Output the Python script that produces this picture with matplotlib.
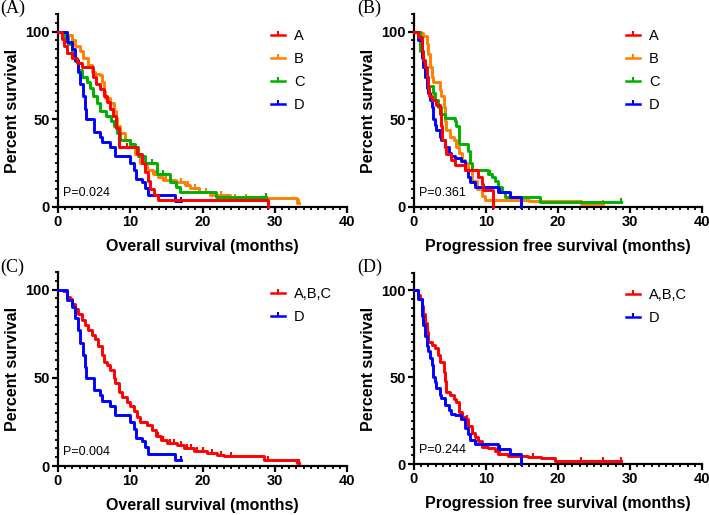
import matplotlib
matplotlib.use('Agg')
import matplotlib.pyplot as plt
from matplotlib.path import Path
from matplotlib.lines import Line2D
from matplotlib.ticker import MultipleLocator

plt.rcParams['font.family'] = ['Liberation Sans', 'DejaVu Sans']

# colours of the groups
col_a = '#ff0000'
col_b = '#ff8000'
col_c = '#00b000'
col_d = '#0000ff'

# ---- (A) overall survival, four groups ----
os_a_t = [0, 0.5, 0.8, 1.3, 2.0, 2.6, 3.3, 4.9, 5.3, 5.8, 6.3, 6.8, 7.2, 7.6, 8.0, 8.4, 10.9, 11.6, 12.0, 12.4, 12.8, 13.3, 13.8, 29.0]
os_a_s = [100, 96, 92, 88, 85, 82, 80, 74, 70, 67, 63, 60, 56, 52, 45, 34, 30, 25, 20, 15, 10, 7, 4, 0]
os_a_cens = [5.0, 9.5]

os_b_t = [0, 1.2, 1.9, 2.4, 3.0, 3.5, 4.2, 4.7, 5.1, 5.8, 6.05, 6.3, 6.5, 7.2, 7.7, 8.0, 8.2, 8.6, 9.3, 10.0, 10.7,
          11.4, 12.3, 13.2, 13.9, 14.6, 16.3, 17.6, 18.3, 19.5, 21.1, 23.8, 33.1, 33.3]
os_b_s = [100, 98, 95, 92, 89, 85, 81, 77, 76, 75, 71, 66, 62, 59, 55, 51, 46, 42, 38, 34, 30,
          25, 21, 19, 17, 15.5, 14.4, 12.5, 10.6, 8.7, 7.0, 5.3, 2.0, 2.0]
os_b_cens = [13.5, 15.0, 17.0, 18.0, 19.0, 20.5, 22.5, 24.5, 26.0, 33.3]

os_c_t = [0, 1.0, 1.4, 1.9, 2.4, 2.8, 3.3, 4.0, 4.4, 4.9, 5.4, 5.8, 6.7, 7.4, 7.7, 8.1, 8.6, 10.0, 10.7, 11.1, 12.1,
          13.7, 15.5, 16.4, 16.9, 21.8, 28.8]
os_c_s = [100, 97, 93, 85, 83, 78, 74, 71, 68, 63, 59, 55, 52, 49, 46, 42, 38, 36, 34, 29, 25,
          19, 14.5, 11.5, 8.7, 5.5, 5.5]
os_c_cens = [13.0, 14.5, 28.8]

os_d_t = [0, 1.3, 1.9, 2.4, 2.7, 3.0, 3.4, 3.7, 3.9, 5.0, 5.8, 6.1, 7.2, 7.9, 10.0, 10.5, 10.8, 11.6, 12.1, 12.4, 16.2, 17.0]
os_d_s = [100, 94, 90, 84, 77, 70, 63, 56, 50, 43, 40, 37, 34, 29, 25, 21, 16, 14, 11, 7, 3.5, 3.5]
os_d_cens = [17.0]

# ---- (B) progression free survival, four groups ----
pfs_a_t = [0, 0.6, 1.05, 1.3, 1.5, 1.75, 2.0, 2.1, 2.45, 3.1, 3.6, 3.8, 3.9, 4.3, 4.5, 5.2, 5.7, 7.1, 8.9, 9.4, 9.6, 11.0]
pfs_a_s = [100, 97, 89, 84, 80, 74, 68, 63, 61, 58, 53, 46, 38, 34, 30, 27, 24, 21, 17, 13, 9.5, 0]
pfs_a_cens = []

pfs_b_t = [0, 1.0, 1.3, 1.75, 2.0, 2.2, 2.45, 2.7, 3.6, 3.8, 4.1, 4.3, 4.5, 5.0, 5.5, 5.9, 6.2, 6.6, 7.1, 7.5,
           8.0, 8.7, 9.4, 9.9, 16.0, 23.2, 26.2]
pfs_b_s = [100, 99, 97.5, 93, 87, 80, 74, 71, 66.5, 63, 57, 49, 44, 40, 38, 34, 30.5, 27, 25, 21,
           15, 10, 6, 4, 3.3, 1.7, 1.7]
pfs_b_cens = [23.2, 26.2]

pfs_c_t = [0, 0.8, 1.3, 1.5, 2.0, 2.7, 2.9, 3.4, 3.8, 4.3, 5.7, 5.9, 6.2, 7.5, 7.8, 8.0, 10.3, 10.8, 11.2, 11.7,
           12.2, 12.6, 17.5, 28.8]
pfs_c_s = [100, 89, 80, 74, 69, 65, 61, 57, 53, 51, 49, 46, 36, 32, 25, 21, 19, 17, 15, 11.5,
           8.7, 5.9, 3, 3]
pfs_c_cens = [10.5, 28.8]

pfs_d_t = [0, 0.6, 1.05, 1.3, 1.5, 1.75, 2.0, 2.2, 2.5, 2.7, 2.9, 3.1, 3.6, 3.8, 4.3, 4.8, 5.2, 5.7, 6.5, 7.1,
           7.5, 7.8, 8.5, 11.7, 13.3, 14.8]
pfs_d_s = [100, 95, 85, 80, 74, 68, 65, 61, 57, 50, 47, 44, 40, 38, 34, 31, 29, 28, 26, 21,
           17, 14, 11.5, 8.7, 5.9, 0]
pfs_d_cens = [12.0]

# ---- (C) overall survival, A+B+C pooled ----
os_abc_t = [0, 0.7, 1.2, 1.7, 1.9, 2.4, 2.8, 3.3, 3.75, 4.2, 4.7, 5.1, 5.6, 6.1, 6.3, 6.8, 7.2, 7.7, 7.9, 8.4,
            8.8, 9.5, 10.0, 10.5, 10.9, 11.4, 12.3, 13.0, 13.5, 14.2, 15.1, 16.5, 17.4, 18.8, 20.6, 22.0,
            23.0, 28.5, 33.1, 33.3]
os_abc_s = [100, 99, 96, 94.5, 92, 89, 86, 83, 80, 77, 74, 72, 68, 63, 59, 57, 54.5, 50, 47, 42,
            39, 36.5, 34, 31, 28, 25, 23, 20.5, 17, 15, 13, 12, 10, 8.3, 7.3, 6.3,
            5.4, 3.4, 1.5, 1.5]
os_abc_cens = [13.8, 14.6, 15.5, 16.0, 17.0, 17.8, 18.4, 19.2, 20.0, 21.3, 22.5, 24.0, 29.0, 33.3]

# ---- (D) progression free survival, A+B+C pooled ----
pfs_abc_t = [0, 0.6, 0.83, 1.06, 1.3, 1.5, 1.76, 2.0, 2.45, 2.9, 3.4, 3.6, 4.1, 4.3, 4.5, 5.0, 5.5, 5.9, 6.2,
             6.6, 7.1, 7.5, 8.0, 8.5, 8.9, 9.4, 10.3, 11.25, 11.7, 13.1, 15.9, 17.7, 19.6, 28.8]
pfs_abc_s = [100, 97.6, 95, 91, 86.4, 81.4, 75.8, 70, 68.6, 66.7, 62.9, 58.6, 53, 47.8, 41.6, 39.8, 37.6, 35.8, 30,
             27, 26, 22, 18, 15.5, 13, 10, 9, 7.5, 5.6, 4.5, 4, 3.2, 1.6, 1.6]
pfs_abc_cens = [7.3, 8.2, 9.0, 10.0, 12.0, 16.5, 23.2, 26.2, 28.8]

# censor tick: short vertical line going up from the curve
tick = Path([(0, 0), (0, 1)])


def surv_at(t, s, x):
    v = s[0]
    for ti, si in zip(t, s):
        if ti <= x:
            v = si
    return v


def km(ax, t, s, cens, color):
    ax.step(t, s, where='post', color=color, lw=2.1, clip_on=False, zorder=3)
    if cens:
        ax.plot(cens, [surv_at(t, s, c) for c in cens], ls='none', marker=tick,
                ms=6, mew=1.5, color=color, clip_on=False, zorder=3)


def style(ax, xlabel, ptext, labels, colors):
    ax.set_xlim(0, 40)
    ax.set_ylim(0, 110)
    for sp in ['top', 'right']:
        ax.spines[sp].set_visible(False)
    for sp in ['left', 'bottom']:
        ax.spines[sp].set_linewidth(1.6)
    ax.xaxis.set_major_locator(MultipleLocator(10))
    ax.xaxis.set_minor_locator(MultipleLocator(1))
    ax.set_yticks([0, 50, 100])
    ax.yaxis.set_minor_locator(MultipleLocator(5))
    ax.tick_params(which='major', length=4.3, width=1.6, labelsize=10.5, pad=1.5)
    ax.tick_params(which='minor', length=2.4, width=1.3)
    for lab in ax.get_xticklabels() + ax.get_yticklabels():
        lab.set_fontweight('bold')
    ax.set_xlabel(xlabel, fontsize=11.5, fontweight='bold', labelpad=7)
    ax.set_ylabel('Percent survival', fontsize=11.5, fontweight='bold', labelpad=4)
    ax.text(0.7, 8, ptext, fontsize=9, va='center', ha='left')
    handles = [Line2D([], [], color=c, lw=1.8, marker=tick, ms=6, mew=1.5) for c in colors]
    ax.legend(handles, labels, loc='upper left', bbox_to_anchor=(0.7, 0.975), frameon=False,
              fontsize=10.5, handlelength=1.0, handletextpad=0.6, labelspacing=0.62, borderaxespad=0.3)


fig = plt.figure(figsize=(7.09, 5.15), dpi=100)
W, H = 709, 515
axA = fig.add_axes([58 / W, 1 - 207 / H, 289 / W, 193 / H])
axB = fig.add_axes([414 / W, 1 - 207 / H, 288 / W, 193 / H])
axC = fig.add_axes([58 / W, 1 - 466 / H, 289 / W, 194 / H])
axD = fig.add_axes([414 / W, 1 - 464 / H, 288 / W, 191 / H])

km(axA, os_b_t, os_b_s, os_b_cens, col_b)
km(axA, os_c_t, os_c_s, os_c_cens, col_c)
km(axA, os_d_t, os_d_s, os_d_cens, col_d)
km(axA, os_a_t, os_a_s, os_a_cens, col_a)
style(axA, 'Overall survival (months)', 'P=0.024', ['A', 'B', 'C', 'D'], [col_a, col_b, col_c, col_d])

km(axB, pfs_b_t, pfs_b_s, pfs_b_cens, col_b)
km(axB, pfs_c_t, pfs_c_s, pfs_c_cens, col_c)
km(axB, pfs_d_t, pfs_d_s, pfs_d_cens, col_d)
km(axB, pfs_a_t, pfs_a_s, pfs_a_cens, col_a)
style(axB, 'Progression free survival (months)', 'P=0.361', ['A', 'B', 'C', 'D'], [col_a, col_b, col_c, col_d])

km(axC, os_abc_t, os_abc_s, os_abc_cens, col_a)
km(axC, os_d_t, os_d_s, os_d_cens, col_d)
style(axC, 'Overall survival (months)', 'P=0.004', ['A,B,C', 'D'], [col_a, col_d])

km(axD, pfs_abc_t, pfs_abc_s, pfs_abc_cens, col_a)
km(axD, pfs_d_t, pfs_d_s, pfs_d_cens, col_d)
style(axD, 'Progression free survival (months)', 'P=0.244', ['A,B,C', 'D'], [col_a, col_d])

for x, y, s in [(0, 8, '(A)'), (357, 8, '(B)'), (0, 267, '(C)'), (357, 267, '(D)')]:
    fig.text(x / W, 1 - y / H, s, family=['Liberation Serif', 'DejaVu Serif'], fontsize=13,
             ha='left', va='center')

fig.savefig('out.png', dpi=100)
